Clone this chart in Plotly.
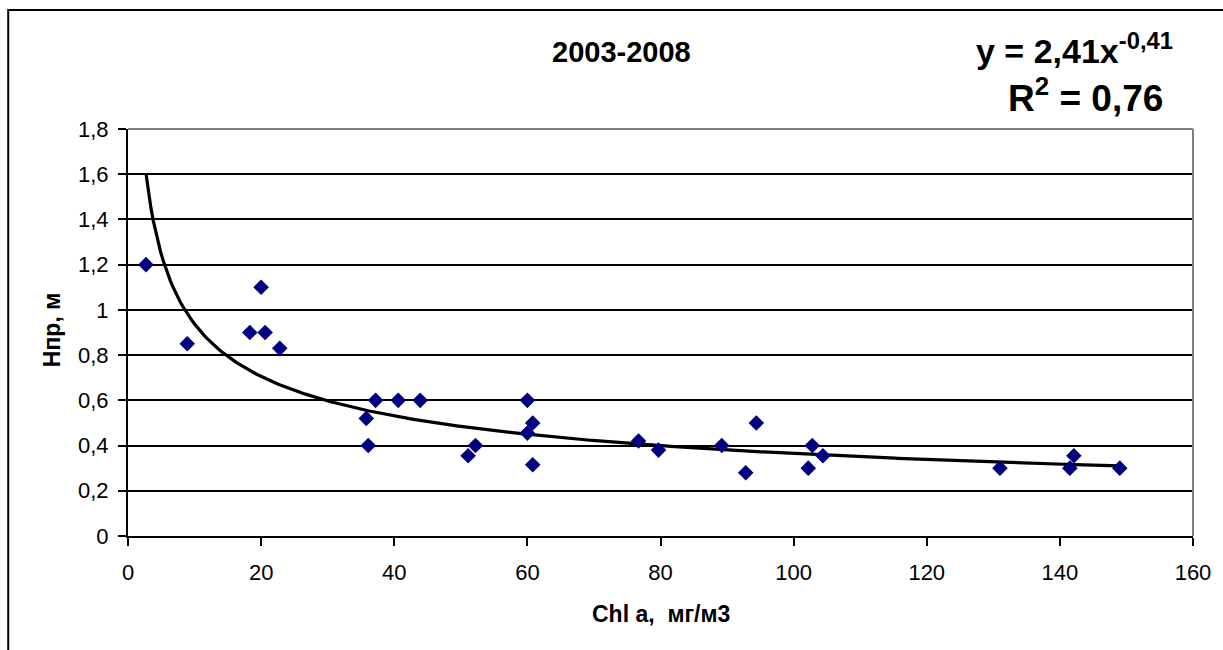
import numpy as np
import plotly.graph_objects as go

# Data
chl_a = [2.7, 8.9, 18.3, 20.0, 20.6, 22.8, 35.8, 36.1, 37.2, 40.6, 43.9,
         51.1, 52.2, 60.0, 60.0, 60.8, 60.8, 76.7, 79.7, 89.2, 92.8, 94.4,
         102.2, 102.8, 104.4, 131.0, 141.5, 142.1, 149.0]
h_pr = [1.20, 0.85, 0.90, 1.10, 0.90, 0.83, 0.52, 0.40, 0.60, 0.60, 0.60,
        0.355, 0.40, 0.60, 0.455, 0.50, 0.315, 0.42, 0.38, 0.40, 0.28, 0.50,
        0.30, 0.40, 0.355, 0.30, 0.30, 0.355, 0.30]

# Power trendline shown on chart: y = 2,41 x^-0,41
TREND_A = 2.41
TREND_B = -0.41

title_text = "2003-2008"
x_title = "Chl a,  мг/м3"
y_title = "Hпр, м"
x_ticks = [0, 20, 40, 60, 80, 100, 120, 140, 160]
y_ticks = [0, 0.2, 0.4, 0.6, 0.8, 1.0, 1.2, 1.4, 1.6, 1.8]
y_tick_labels = ["0", "0,2", "0,4", "0,6", "0,8", "1", "1,2", "1,4", "1,6", "1,8"]

W, H = 1223, 650
L, R, T, B = 128, 1195, 129, 536  # plot area in px
FONT = "Liberation Sans, Arial, sans-serif"


def px(xp):
    return (xp - L) / (R - L)


def py(yp):
    return (B - yp) / (B - T)


tx = np.linspace(min(chl_a), max(chl_a), 400)
ty = TREND_A * tx ** TREND_B

fig = go.Figure()
fig.add_trace(go.Scatter(x=tx, y=ty, mode="lines",
                         line=dict(color="black", width=3.2), hoverinfo="skip",
                         showlegend=False))
fig.add_trace(go.Scatter(x=chl_a, y=h_pr, mode="markers",
                         marker=dict(symbol="diamond", color="#000080", size=12,
                                     line=dict(width=0)),
                         showlegend=False))

fig.update_layout(
    width=W, height=H,
    margin=dict(l=L, r=W - R, t=T, b=H - B),
    paper_bgcolor="white", plot_bgcolor="white",
    font=dict(family=FONT, color="black", size=22),
    showlegend=False,
)

fig.update_xaxes(range=[0, 160], tickvals=x_ticks, ticktext=[str(v) for v in x_ticks],
                 showgrid=False, zeroline=False, showline=True, linecolor="black",
                 linewidth=2, ticks="outside", ticklen=8, tickwidth=2, tickcolor="black",
                 ticklabelstandoff=8,
                 tickfont=dict(size=22, family=FONT))
fig.update_yaxes(range=[0, 1.8], tickvals=y_ticks, ticktext=y_tick_labels,
                 showgrid=True, gridcolor="black", gridwidth=2, zeroline=False,
                 showline=True, linecolor="black", linewidth=2, ticks="outside",
                 ticklen=8, tickwidth=2, tickcolor="black", ticklabelstandoff=5,
                 tickfont=dict(size=22, family=FONT))

# plot area border (gray, top and right)
fig.add_shape(type="line", xref="paper", yref="paper", x0=0, x1=1, y0=1, y1=1,
              line=dict(color="#808080", width=2))
fig.add_shape(type="line", xref="paper", yref="paper", x0=1, x1=1, y0=0, y1=1,
              line=dict(color="#808080", width=2))
# outer chart border
fig.add_shape(type="rect", xref="paper", yref="paper",
              x0=px(8), x1=px(1300), y0=py(720), y1=py(10),
              line=dict(color="black", width=2), fillcolor="rgba(0,0,0,0)")

fig.add_annotation(x=px(622), y=py(52), xref="paper", yref="paper",
                   text="<b>" + title_text + "</b>", showarrow=False,
                   font=dict(size=29, family=FONT), xanchor="center", yanchor="middle")
fig.add_annotation(x=px(1177), y=py(49), xref="paper", yref="paper",
                   text="<b>y = 2,41x<sup>-0,41</sup></b>", showarrow=False,
                   font=dict(size=34, family=FONT), xanchor="right", yanchor="middle")
fig.add_annotation(x=px(1167), y=py(95), xref="paper", yref="paper",
                   text="<b>R<sup>2</sup> = 0,76</b>", showarrow=False,
                   font=dict(size=37, family=FONT), xanchor="right", yanchor="middle")
fig.add_annotation(x=px(662), y=py(614), xref="paper", yref="paper",
                   text="<b>" + x_title + "</b>", showarrow=False,
                   font=dict(size=23, family=FONT), xanchor="center", yanchor="middle")
fig.add_annotation(x=px(52), y=py(330), xref="paper", yref="paper",
                   text="<b>" + y_title + "</b>", showarrow=False, textangle=-90,
                   font=dict(size=23, family=FONT), xanchor="center", yanchor="middle")

fig.write_html("out.html")
